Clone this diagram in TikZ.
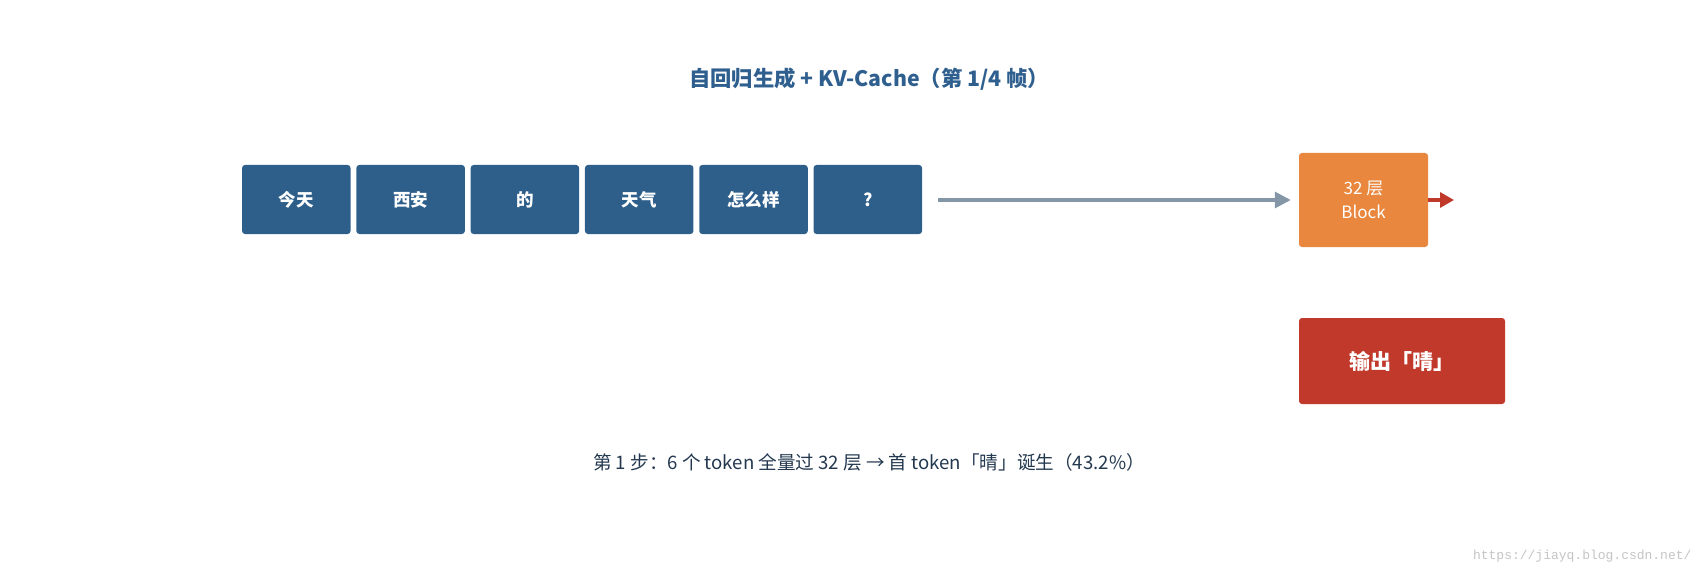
\documentclass[tikz,border=0pt]{standalone}
\usepackage{fontspec}
\setmainfont{Noto Sans CJK SC}
\newfontfamily\wmfont{Liberation Mono}
\usetikzlibrary{arrows.meta}
\definecolor{tokblue}{HTML}{2E5F8A}
\definecolor{titleblue}{HTML}{2F5F8E}
\definecolor{navy}{HTML}{23384F}
\definecolor{orangeb}{HTML}{E8873D}
\definecolor{redb}{HTML}{C0392B}
\definecolor{slate}{HTML}{8496A8}
\definecolor{wm}{HTML}{C4C4C4}
\begin{document}
\begin{tikzpicture}[x=1pt,y=-1pt,
  tok/.style={fill=tokblue, draw=none, rounded corners=3pt, minimum width=108.5pt, minimum height=69pt, inner sep=0pt, text=white, font=\fontsize{17.5}{20}\selectfont\bfseries},
  blockbox/.style={fill=orangeb, draw=none, rounded corners=3pt, minimum width=129pt, minimum height=94pt, inner sep=0pt, text=white, align=center, font=\fontsize{17}{24}\selectfont},
  outbox/.style={fill=redb, draw=none, rounded corners=3pt, minimum width=206pt, minimum height=86pt, inner sep=0pt, text=white, font=\fontsize{21}{24}\selectfont\bfseries},
  grayarrow/.style={draw=slate, line width=3.3pt, -{Triangle[length=16pt,width=16pt]}},
  redarrow/.style={draw=redb, line width=3.3pt, -{Triangle[length=14pt,width=15pt]}}
]
\useasboundingbox (0,0) rectangle (1705,572);
\node[font=\fontsize{21.3}{24}\selectfont\bfseries, text=titleblue] (title) at (869,79) {自回归生成 + KV-Cache（第 1/4 帧）};
\node[tok] (t1) at (296.3,199.5) {今天};
\node[tok] (t2) at (410.6,199.5) {西安};
\node[tok] (t3) at (524.9,199.5) {的};
\node[tok] (t4) at (639.2,199.5) {天气};
\node[tok] (t5) at (753.5,199.5) {怎么样};
\node[tok] (t6) at (867.8,199.5) {?};
\node[blockbox] (blk) at (1363.5,200) {32 层\\Block};
\node[outbox] (out) at (1402,361) {输出「晴」};
\coordinate (gs) at (938,200);
\coordinate (re) at (1454,200);
\draw[grayarrow, shorten >=8pt] (gs) -- (blk.west);
\draw[redarrow] (blk.east) -- (re);
\node[font=\fontsize{18.6}{22}\selectfont, text=navy] (cap) at (869,462) {第 1 步：6 个 token 全量过 32 层 → 首 token「晴」诞生（43.2\%）};
\node[font=\wmfont\fontsize{13}{15}\selectfont, text=wm, anchor=east] (wmk) at (1695,556) {https://jiayq.blog.csdn.net/};
\end{tikzpicture}
\end{document}
